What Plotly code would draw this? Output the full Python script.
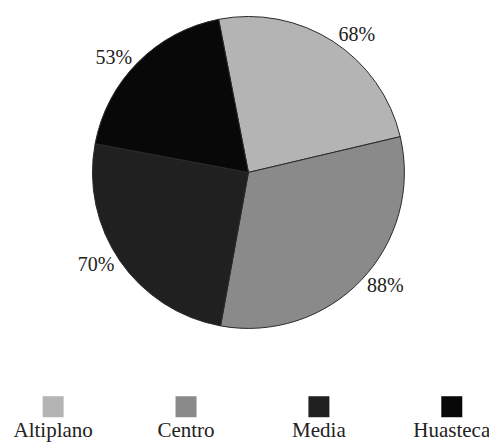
import plotly.graph_objects as go

# Regional shares shown on the pie
regions = ["Altiplano", "Centro", "Media", "Huasteca"]
shares = [68, 88, 70, 53]
share_labels = ["68%", "88%", "70%", "53%"]
colors = ["#b4b4b4", "#8a8a8a", "#202020", "#080808"]

# Legend row positions (one slot per region)
legend_slots = [0, 1, 2, 3]
legend_row = [0.43, 0.43, 0.43, 0.43]

font_family = "Liberation Serif"

fig = go.Figure()

fig.add_trace(go.Pie(
    labels=regions,
    values=shares,
    text=share_labels,
    textinfo="text",
    textposition="outside",
    textfont=dict(family=font_family, size=20, color="#222222"),
    marker=dict(colors=colors, line=dict(color="#2a2a2a", width=1)),
    sort=False,
    direction="clockwise",
    rotation=-11,
    showlegend=False,
    hoverinfo="label+value",
    domain=dict(x=[0.189, 0.827], y=[0.262, 0.963]),
))

# Custom legend: square swatch with the region name underneath
fig.add_trace(go.Scatter(
    x=legend_slots,
    y=legend_row,
    mode="markers+text",
    text=regions,
    textposition="bottom center",
    textfont=dict(family=font_family, size=21, color="#222222"),
    marker=dict(symbol="square", size=21, color=colors, line=dict(width=0)),
    showlegend=False,
    hoverinfo="text",
    xaxis="x",
    yaxis="y",
))

fig.update_layout(
    width=489,
    height=445,
    margin=dict(l=0, r=0, t=0, b=0),
    paper_bgcolor="white",
    plot_bgcolor="white",
    xaxis=dict(domain=[0, 1], range=[-0.40, 3.28], visible=False, fixedrange=True),
    yaxis=dict(domain=[0, 0.2], range=[0, 1], visible=False, fixedrange=True),
)

fig.write_html("out.html")
